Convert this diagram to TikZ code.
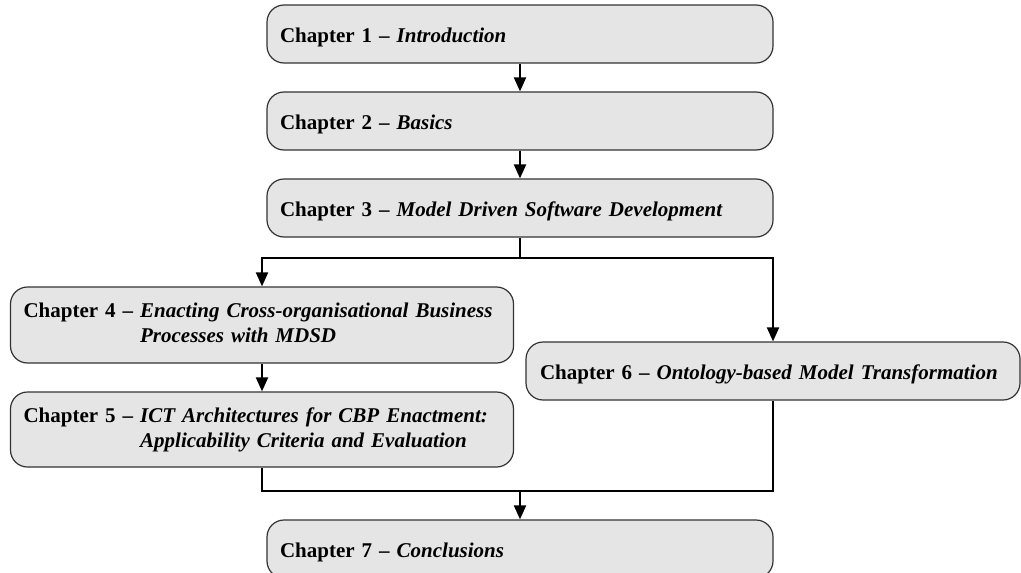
\documentclass[tikz,border=0pt]{standalone}
\usepackage{fontspec}
\setmainfont{Liberation Serif}
\usetikzlibrary{arrows.meta}
\begin{document}
\begin{tikzpicture}[x=1pt,y=-1pt,
  chapbox/.style={draw=black!80, line width=1.2pt, fill=black!10,
    rounded corners=17pt, inner xsep=13pt, inner ysep=0pt, align=left,
    font=\fontsize{21}{25}\selectfont\bfseries},
  oneline/.style={text height=16pt, text depth=0pt},
  flow/.style={line width=2pt, draw=black},
  arr/.style={flow, -{Triangle[length=14pt,width=12pt]}}]
\useasboundingbox (0,0) rectangle (1021,573);

% chapter boxes
\node[chapbox, oneline, text width=480pt, minimum height=58pt] (ch1) at (520,34)
  {Chapter 1 – \textit{Introduction}};
\node[chapbox, oneline, text width=480pt, minimum height=58pt] (ch2) at (520,121)
  {Chapter 2 – \textit{Basics}};
\node[chapbox, oneline, text width=480pt, minimum height=58pt] (ch3) at (520,208)
  {Chapter 3 – \textit{Model Driven Software Development}};
\node[chapbox, text width=477pt, minimum height=76pt] (ch4) at (262,325)
  {Chapter 4 – \begin{tabular}[t]{@{}l@{}}\textit{Enacting Cross-organisational Business}\\
   \textit{Processes with MDSD}\end{tabular}};
\node[chapbox, text width=477pt, minimum height=75pt] (ch5) at (262,429.5)
  {Chapter 5 – \begin{tabular}[t]{@{}l@{}}\textit{ICT Architectures for CBP Enactment:}\\
   \textit{Applicability Criteria and Evaluation}\end{tabular}};
\node[chapbox, oneline, inner xsep=14pt, text width=466pt, minimum height=58pt] (ch6) at (773,371)
  {Chapter 6 – \textit{Ontology-based Model Transformation}};
\node[chapbox, oneline, text width=480pt, minimum height=58pt] (ch7) at (520,549)
  {Chapter 7 – \textit{Conclusions}};

% junction points of the connectors
\coordinate (split) at (520,258);
\coordinate (merge) at (520,491);

% connectors
\draw[arr] (ch1) -- (ch2);
\draw[arr] (ch2) -- (ch3);
\draw[flow] (ch3.south) -- (split);
\draw[arr] (split) -| (ch4.north);
\draw[arr] (split) -| (ch6.north);
\draw[arr] (ch4) -- (ch5);
\draw[flow] (ch5.south) |- (merge);
\draw[flow] (ch6.south) |- (merge);
\draw[arr] (merge) -- (ch7.north);
\end{tikzpicture}
\end{document}
